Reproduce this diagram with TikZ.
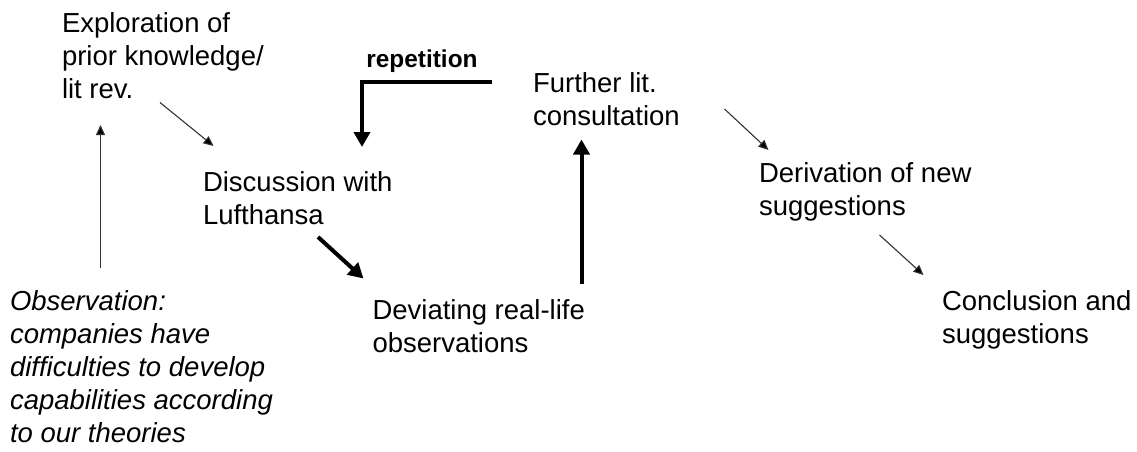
\documentclass[tikz,border=0pt]{standalone}
\usepackage{fontspec}
\setmainfont{Liberation Sans}
\usetikzlibrary{arrows.meta}
\begin{document}
\begin{tikzpicture}[x=1pt,y=-1pt,
  txt/.style={anchor=north west,inner sep=0pt,outer sep=0pt,align=left,
    font=\fontsize{27.5}{33}\selectfont},
  thinarrow/.style={line width=1.1pt,draw=black!80,-{Triangle[length=10pt,width=9pt,fill=black]}},
  boldarrow/.style={line width=4pt,-{Triangle[length=15pt,width=16pt]}},
  lbl/.style={anchor=base,inner sep=0pt,font=\fontsize{24.4}{28}\selectfont\bfseries}]
\useasboundingbox (0,0) rectangle (1137,452);
\fill[white] (0,0) rectangle (1137,452);

\node[txt] (expl) at (62,12.5) {Exploration of\\prior knowledge/\\lit rev.};
\node[txt] (disc) at (203,171.5) {Discussion with\\Lufthansa};
\node[txt] (devi) at (372.5,299.5) {Deviating real-life\\observations};
\node[txt] (furt) at (533,72.5) {Further lit.\\consultation};
\node[txt] (deri) at (759,163) {Derivation of new\\suggestions};
\node[txt] (conc) at (942,290.5) {Conclusion and\\suggestions};
\node[txt,font=\fontsize{27.5}{33}\selectfont\itshape] (obs) at (10,290.5)
  {Observation:\\companies have\\difficulties to develop\\capabilities according\\to our theories};
\node[lbl] (rep) at (422,67) {repetition};

% arrow end points
\coordinate (obsTop) at (100.5,268);
\coordinate (explBot) at (100.5,125);
\coordinate (explOut) at (160,102.5);
\coordinate (discIn) at (213.5,146);
\coordinate (furtOut) at (492,82);
\coordinate (corner) at (362,82);
\coordinate (discTop) at (362,147);
\coordinate (discOut) at (318,237);
\coordinate (deviIn) at (363.5,278.5);
\coordinate (deviTop) at (581.5,283.5);
\coordinate (furtBot) at (581.5,139.5);
\coordinate (furtOut2) at (724.5,109);
\coordinate (deriIn) at (768.5,150);
\coordinate (deriOut) at (879.5,235);
\coordinate (concIn) at (923.5,275);

\draw[thinarrow] (obsTop) -- (explBot);
\draw[thinarrow] (explOut) -- (discIn);
\draw[boldarrow] (furtOut) -- (corner) -- (discTop);
\draw[boldarrow] (discOut) -- (deviIn);
\draw[boldarrow] (deviTop) -- (furtBot);
\draw[thinarrow] (furtOut2) -- (deriIn);
\draw[thinarrow] (deriOut) -- (concIn);
\end{tikzpicture}
\end{document}
